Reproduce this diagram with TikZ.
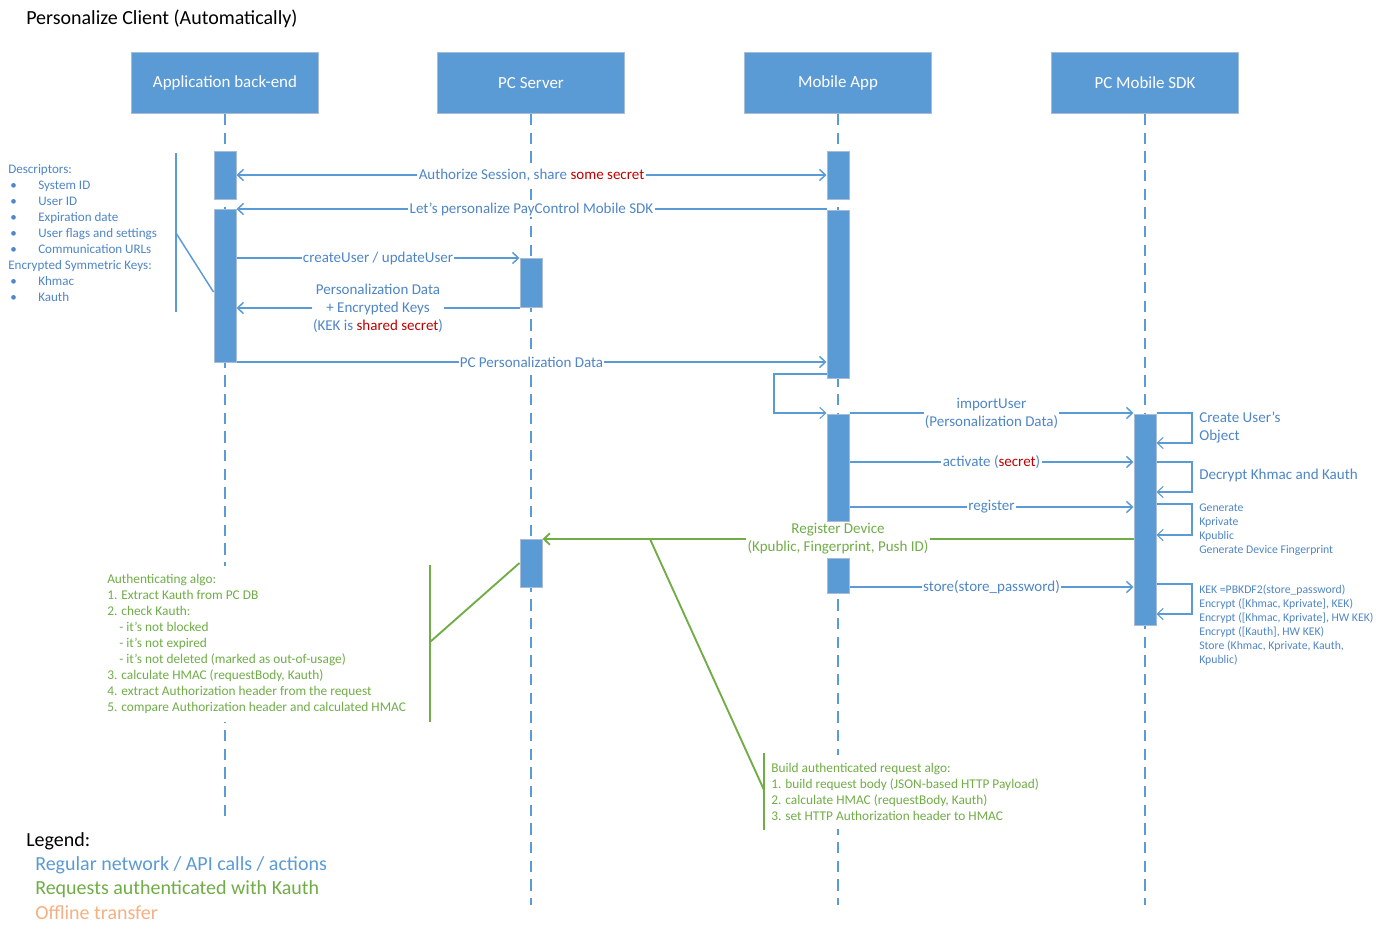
\documentclass[tikz,border=0pt]{standalone}
\usepackage{fontspec}
\setmainfont{Carlito}
\usetikzlibrary{arrows.meta,fit}
\definecolor{boxblue}{HTML}{5B9BD5}
\definecolor{lineblue}{HTML}{5B9BD5}
\definecolor{txtblue}{HTML}{4F86C6}
\definecolor{agreen}{HTML}{70AD47}
\definecolor{ared}{HTML}{C00000}
\definecolor{aorange}{HTML}{F4B183}
\definecolor{boxedge}{HTML}{A8BCD6}
\newcommand{\fsz}[2]{\fontsize{#1}{#2}\selectfont}
\newcommand{\mybul}{\makebox[22.5pt][l]{\hspace{1.5pt}\textbullet}}
\begin{document}
\begin{tikzpicture}[x=0.75pt,y=-0.75pt,
  >={Straight Barb[length=4.5pt,width=8.5pt]},
  hdr/.style={fill=boxblue, draw=boxedge, line width=0.75pt, inner sep=0pt, text=white, font=\fsz{12.7}{15}, minimum width=140.25pt, minimum height=45.75pt},
  act/.style={fill=boxblue, draw=boxedge, line width=0.75pt, inner sep=0pt},
  life/.style={draw=lineblue, line width=1.5pt, dash pattern=on 8.5pt off 5.5pt},
  msg/.style={draw=lineblue, line width=1.1pt, ->},
  gmsg/.style={draw=agreen, line width=1.4pt, ->},
  selfloop/.style={draw=lineblue, line width=0.8pt, ->},
  lbl/.style={fill=white, text=txtblue, inner sep=1pt, font=\fsz{11.25}{13.5}, align=center},
  glbl/.style={fill=white, text=agreen, inner sep=1pt, font=\fsz{11.25}{13.5}, align=center},
  bnote/.style={anchor=west, align=left, text=txtblue, inner sep=0pt},
  gnote/.style={anchor=west, align=left, text=agreen, fill=white, inner xsep=0pt, inner ysep=6pt, font=\fsz{10}{12}},
  bbrack/.style={draw=lineblue, line width=1.1pt},
  gbrack/.style={draw=agreen, line width=1.4pt}
]
\useasboundingbox[fill=white] (0,0) rectangle (1379,935);

% title
\node[anchor=west, inner sep=0pt, font=\fsz{15}{18}] (title) at (26,19) {Personalize Client (Automatically)};

% headers
\node[hdr] (h1) at (225,83) {Application back-end};
\node[hdr] (h2) at (531,83) {PC Server};
\node[hdr] (h3) at (838,83) {Mobile App};
\node[hdr] (h4) at (1145,83) {PC Mobile SDK};

% lifeline ends
\coordinate (e1) at (225,822);
\coordinate (e2) at (531,905);
\coordinate (e3) at (838,905);
\coordinate (e4) at (1145,905);
\draw[life] (h1.south) -- (e1);
\draw[life] (h2.south) -- (e2);
\draw[life] (h3.south) -- (e3);
\draw[life] (h4.south) -- (e4);

% activations
\node[act, fit={(214,151)(236,199)}] (ab1) {};
\node[act, fit={(214,209)(236,362)}] (ab2) {};
\node[act, fit={(520,258)(542,307)}] (ps1) {};
\node[act, fit={(520,539)(542,587)}] (ps2) {};
\node[act, fit={(827,151)(849,199)}] (ma1) {};
\node[act, fit={(827,210)(849,378)}] (ma2) {};
\node[act, fit={(827,414)(849,521)}] (ma3) {};
\node[act, fit={(827,558)(849,593)}] (ma4) {};
\node[act, fit={(1134,414)(1156,625)}] (sd1) {};

% y levels
\coordinate (y175) at (0,175);
\coordinate (y209) at (0,209);
\coordinate (y258) at (0,258);
\coordinate (y308) at (0,308);
\coordinate (y362) at (0,362);
\coordinate (y374) at (0,374);
\coordinate (y413) at (0,413);
\coordinate (y443) at (0,443);
\coordinate (y462) at (0,462);
\coordinate (y492) at (0,492);
\coordinate (y504) at (0,504);
\coordinate (y507) at (0,507);
\coordinate (y535) at (0,535);
\coordinate (y539) at (0,539);
\coordinate (y584) at (0,584);
\coordinate (y587) at (0,587);
\coordinate (y614) at (0,614);

% messages
\draw[msg, <->] (ab1.east |- y175) -- node[lbl] {Authorize Session, share \textcolor{ared}{some secret}} (ma1.west |- y175);
\draw[msg] (ma2.west |- y209) -- node[lbl] {Let’s personalize PayControl Mobile SDK} (ab2.east |- y209);
\draw[msg] (ab2.east |- y258) -- node[lbl] {createUser / updateUser} (ps1.west |- y258);
\draw[msg] (ps1.west |- y308) -- node[lbl] {Personalization Data\\+ Encrypted Keys\\(KEK is \textcolor{ared}{shared secret})} (ab2.east |- y308);
\draw[msg] (ab2.east |- y362) -- node[lbl] {PC Personalization Data} (ma2.west |- y362);

\coordinate (sl1) at (774,374);
\coordinate (sl2) at (774,413);
\draw[selfloop] (ma2.west |- y374) -- (sl1) -- (sl2) -- (ma3.west |- y413);

\draw[msg] (ma3.east |- y413) -- node[lbl] {importUser\\(Personalization Data)} (sd1.west |- y413);
\draw[msg] (ma3.east |- y462) -- node[lbl] {activate (\textcolor{ared}{secret})} (sd1.west |- y462);
\draw[msg] (ma3.east |- y507) -- node[lbl] {register} (sd1.west |- y507);
\draw[gmsg] (sd1.west |- y539) -- node[glbl] {Register Device\\(Kpublic, Fingerprint, Push ID)} (ps2.east |- y539);
\draw[msg] (ma4.east |- y587) -- node[lbl] {store(store\_password)} (sd1.west |- y587);

% SDK self loops
\coordinate (r1) at (1192,413); \coordinate (r2) at (1192,443);
\coordinate (r3) at (1192,462); \coordinate (r4) at (1192,492);
\coordinate (r5) at (1192,504); \coordinate (r6) at (1192,535);
\coordinate (r7) at (1192,584); \coordinate (r8) at (1192,614);
\draw[selfloop] (sd1.east |- y413) -- (r1) -- (r2) -- (sd1.east |- y443);
\draw[selfloop] (sd1.east |- y462) -- (r3) -- (r4) -- (sd1.east |- y492);
\draw[selfloop] (sd1.east |- y504) -- (r5) -- (r6) -- (sd1.east |- y535);
\draw[selfloop] (sd1.east |- y584) -- (r7) -- (r8) -- (sd1.east |- y614);

\node[bnote, font=\fsz{11.3}{13.5}] (n1) at (1199,427) {Create User’s\\Object};
\node[bnote, font=\fsz{11.3}{13.5}] (n2) at (1199,475) {Decrypt Khmac and Kauth};
\node[bnote, font=\fsz{8.8}{10.5}] (n3) at (1199,530) {Generate\\Kprivate\\Kpublic\\Generate Device Fingerprint};
\node[bnote, font=\fsz{8.8}{10.5}] (n4) at (1199,625) {KEK =PBKDF2(store\_password)\\Encrypt ([Khmac, Kprivate], KEK)\\Encrypt ([Khmac, Kprivate], HW KEK)\\Encrypt ([Kauth], HW KEK)\\Store (Khmac, Kprivate, Kauth,\\Kpublic)};

% descriptors note
\node[bnote, font=\fsz{9.8}{12}] (desc) at (8,233) {Descriptors:\\\mybul System ID\\\mybul User ID\\\mybul Expiration date\\\mybul User flags and settings\\\mybul Communication URLs\\Encrypted Symmetric Keys:\\\mybul Khmac\\\mybul Kauth};
\coordinate (db1) at (176,153);
\coordinate (db2) at (176,312);
\coordinate (db3) at (176,233);
\coordinate (y292) at (0,292);
\draw[bbrack] (db1) -- (db2);
\draw[bbrack] (db3) -- (ab2.west |- y292);

% authenticating note
\node[gnote] (auth) at (107,644) {Authenticating algo:\\1. Extract Kauth from PC DB\\2. check Kauth:\\\hspace*{9pt}- it’s not blocked\\\hspace*{9pt}- it’s not expired\\\hspace*{9pt}- it’s not deleted (marked as out-of-usage)\\3. calculate HMAC (requestBody, Kauth)\\4. extract Authorization header from the request\\5. compare Authorization header and calculated HMAC};
\coordinate (ab1b) at (430,565);
\coordinate (ab2b) at (430,722);
\coordinate (ab3b) at (430,642);
\coordinate (y563) at (0,563);
\draw[gbrack] (ab1b) -- (ab2b);
\draw[gbrack] (ab3b) -- (ps2.west |- y563);

% build note
\node[gnote] (build) at (771,792) {Build authenticated request algo:\\1. build request body (JSON-based HTTP Payload)\\2. calculate HMAC (requestBody, Kauth)\\3. set HTTP Authorization header to HMAC};
\coordinate (bb1) at (764,753);
\coordinate (bb2) at (764,830);
\coordinate (bb3) at (764,790);
\coordinate (bb4) at (650,539);
\draw[gbrack] (bb1) -- (bb2);
\draw[gbrack] (bb4) -- (bb3);

% legend
\node[anchor=west, inner sep=0pt, font=\fsz{15}{18}] (leg) at (26,841) {Legend:};
\node[anchor=west, inner sep=0pt, font=\fsz{15}{18}, text=boxblue] (leg1) at (35,865) {Regular network / API calls / actions};
\node[anchor=west, inner sep=0pt, font=\fsz{15}{18}, text=agreen] (leg2) at (35,889) {Requests authenticated with Kauth};
\node[anchor=west, inner sep=0pt, font=\fsz{15}{18}, text=aorange] (leg3) at (35,913) {Offline transfer};
\end{tikzpicture}
\end{document}
